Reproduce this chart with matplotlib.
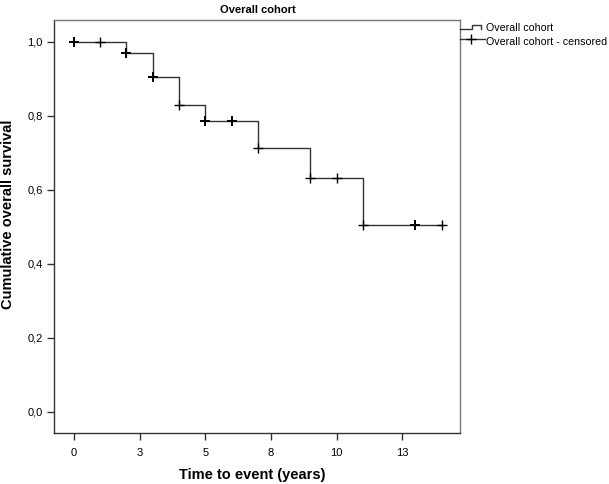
import numpy as np
import matplotlib.pyplot as plt
from matplotlib.lines import Line2D

plt.rcParams['font.family'] = ['Liberation Sans', 'DejaVu Sans']

# Kaplan-Meier steps: time (years) where survival changes, survival after the step
event_times = [0, 2, 3, 4, 5, 7, 9, 11]
survival = [1.0, 0.971, 0.906, 0.830, 0.785, 0.713, 0.632, 0.505]
end_time = 14
# censored observations (time in years) and how many share that mark
censor_times = [0, 1, 2, 3, 4, 5, 6, 7, 9, 10, 11, 13, 14]
censor_counts = [2, 1, 2, 2, 1, 2, 2, 1, 1, 1, 1, 2, 1]

x_ticks = [0, 2.5, 5, 7.5, 10, 12.5]
x_tick_labels = ['0', '3', '5', '8', '10', '13']
y_ticks = [0.0, 0.2, 0.4, 0.6, 0.8, 1.0]
y_tick_labels = ['0,0', '0,2', '0,4', '0,6', '0,8', '1,0']

W, H = 609, 484
fig = plt.figure(figsize=(W / 100, H / 100), dpi=100)
ax = fig.add_axes([54 / W, 1 - 433 / H, (460 - 54) / W, (433 - 20) / H])

# survival curve
xs = np.append(event_times, end_time)
ys = np.append(survival, survival[-1])
ax.step(xs, ys, where='post', color='#333333', lw=1.0)

# censored marks sit on the curve
idx = np.searchsorted(event_times, censor_times, side='right') - 1
censor_surv = np.array(survival)[idx]
for t, s, n in zip(censor_times, censor_surv, censor_counts):
    ax.plot(t, s, '+', color='black', ms=7, mew=1.0 if n == 1 else 1.4)

ax.set_xlim(-0.76, 14.7)
ax.set_ylim(-0.057, 1.059)
ax.set_xticks(x_ticks)
ax.set_xticklabels(x_tick_labels)
ax.set_yticks(y_ticks)
ax.set_yticklabels(y_tick_labels)
ax.tick_params(direction='out', length=5, width=1, color='#333333', labelsize=8)
ax.tick_params(axis='x', pad=6)
ax.tick_params(axis='y', pad=3)

for side in ['left', 'bottom']:
    ax.spines[side].set_color('#333333')
for side in ['top', 'right']:
    ax.spines[side].set_color('#777777')
for sp in ax.spines.values():
    sp.set_linewidth(1.0)

# axis titles and chart title at their pixel places
fig.text(252 / W, 1 - 475 / H, 'Time to event (years)', ha='center', va='center',
         fontsize=10.5, fontweight='bold')
fig.text(8 / W, 1 - 214 / H, 'Cumulative overall survival', ha='center', va='center',
         rotation=90, fontsize=10.5, fontweight='bold')
fig.text(258 / W, 1 - 10 / H, 'Overall cohort', ha='center', va='center',
         fontsize=8, fontweight='bold')

# legend drawn outside to the right, in pixel positions
def px(x, y):
    return x / W, 1 - y / H

step_pts = [px(460, 29), px(472, 29), px(472, 25), px(481, 25), px(481, 29)]
fig.add_artist(Line2D([p[0] for p in step_pts], [p[1] for p in step_pts],
                      transform=fig.transFigure, color='#333333', lw=1.0))
a, b = px(460, 39), px(485, 39)
fig.add_artist(Line2D([a[0], b[0]], [a[1], b[1]], transform=fig.transFigure,
                      color='#333333', lw=1.0))
c = px(471, 39)
fig.add_artist(Line2D([c[0]], [c[1]], transform=fig.transFigure, marker='+',
                      ms=7, mew=1.0, color='black'))
fig.text(486 / W, 1 - 28 / H, 'Overall cohort', ha='left', va='center', fontsize=7.7)
fig.text(486 / W, 1 - 42 / H, 'Overall cohort - censored', ha='left', va='center', fontsize=7.7)

fig.savefig('out.png', dpi=100)
